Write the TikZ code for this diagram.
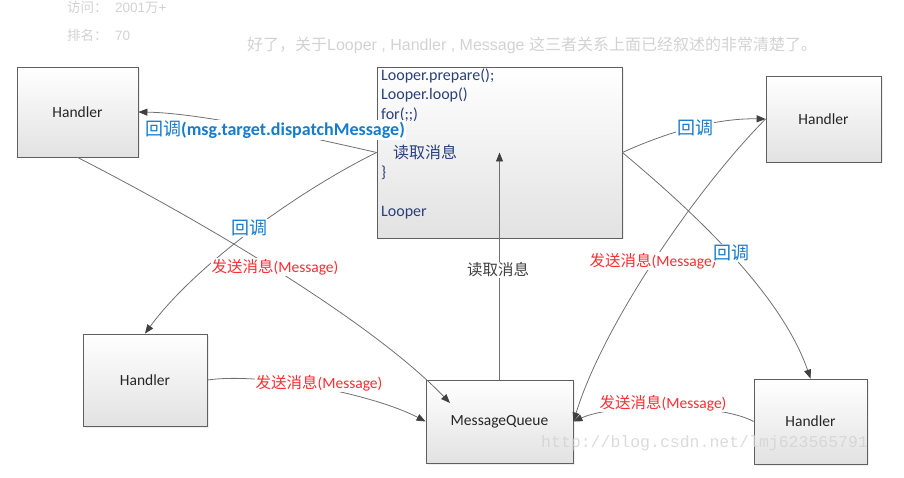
\documentclass[tikz,border=0pt]{standalone}
\usepackage{fontspec}
\setmainfont{Carlito}
\newfontfamily\cjk{Noto Sans CJK SC}
\newfontfamily\arialf{Liberation Sans}
\newfontfamily\monof{Liberation Mono}
\usetikzlibrary{arrows.meta,shadows}

\definecolor{boxline}{RGB}{95,95,95}
\definecolor{boxbottom}{RGB}{226,226,226}
\definecolor{cbblue}{RGB}{22,124,205}
\definecolor{msgred}{RGB}{250,45,50}
\definecolor{codeblue}{RGB}{42,64,122}
\definecolor{linegray}{RGB}{112,112,112}
\definecolor{fadegray}{RGB}{210,210,210}

\newcommand{\zh}[1]{{\cjk #1}}

\begin{document}
\begin{tikzpicture}[x=1pt, y=-1pt,
    box/.style={rectangle, draw=boxline, line width=0.8pt, top color=white, bottom color=boxbottom,
        drop shadow={shadow xshift=1.5pt, shadow yshift=-1.5pt, fill=black!12}, inner sep=0pt,
        font=\fontsize{15.5}{18}\selectfont, text=black!85},
    arrow/.style={-{Triangle[length=9pt,width=7pt,color=black!75]}, draw=linegray, line width=0.8pt},
    cb/.style={fill=white, inner sep=1pt, text=cbblue, font=\fontsize{18}{20}\selectfont},
    msg/.style={fill=white, inner sep=1pt, text=msgred, font=\fontsize{15.5}{18}\selectfont},
    fade/.style={text=fadegray, inner sep=0pt}
]
\useasboundingbox (0,0) rectangle (904,478);

% faded page text behind the figure
\node[fade, anchor=west, font=\fontsize{13.5}{16}\selectfont] (visits) at (67,7) {\zh{访问：}\arialf\ \ 2001\zh{万}+};
\node[fade, anchor=west, font=\fontsize{13.5}{16}\selectfont] (rank) at (67,35) {\zh{排名：}\arialf\ \ 70};
\node[fade, anchor=west, font=\fontsize{16}{18}\selectfont] (intro) at (247,45)
    {\zh{好了，关于}\arialf Looper , Handler , Message \zh{这三者关系上面已经叙述的非常清楚了。}};

% boxes
\node[box, minimum width=121pt, minimum height=90pt] (htl) at (77.5,112) {Handler};
\node[box, minimum width=245pt, minimum height=171pt] (looper) at (499.5,152.5) {};
\node[box, minimum width=115pt, minimum height=86pt] (htr) at (823.5,119) {Handler};
\node[box, minimum width=124pt, minimum height=92pt] (hbl) at (145,380) {Handler};
\node[box, minimum width=147pt, minimum height=83pt] (mq) at (499.5,421.5) {MessageQueue};
\node[box, minimum width=113pt, minimum height=85pt] (hbr) at (810.5,421.5) {Handler};

% code inside the looper box
\node[anchor=north west, inner sep=0pt, align=left, text=codeblue, font=\fontsize{16}{19.5}\selectfont] (code) at (381,68)
    {\rule{0pt}{12pt}Looper.prepare();\\Looper.loop()\\for(;;)\\\mbox{}\\\hspace*{12pt}\zh{读取消息}\\\}\\\mbox{}\\Looper};

\coordinate (mqin) at (450,403);

% connectors
\draw[arrow] (looper.west) .. controls (300,135) and (200,113) .. (htl.east);
\draw[arrow] (looper.west) .. controls (300,190) and (195,265) .. (hbl.north);
\draw[arrow] (htl.south) .. controls (200,220) and (370,320) .. (mqin);
\draw[arrow] (hbl.east) .. controls (265,372) and (375,395) .. (mq.west);
\draw[arrow] (mq.north) -- (looper.center);
\draw[arrow] (looper.east) .. controls (665,133) and (715,118) .. (htr.west);
\draw[arrow] (looper.east) .. controls (685,205) and (780,290) .. (hbr.north);
\draw[arrow] (hbr.west) .. controls (720,403) and (615,403) .. (mq.east);
\draw[arrow] (htr.west) .. controls (700,185) and (605,320) .. (mq.east);

% labels on the connectors
\node[cb] (cb1) at (275,130) {\zh{回调}\textbf{(msg.target.dispatchMessage)}};
\node[cb] (cb2) at (249,228) {\zh{回调}};
\node[msg] (send1) at (275,267) {\zh{发送消息}(Message)};
\node[msg] (send2) at (319,383) {\zh{发送消息}(Message)};
\node[fill=white, inner sep=1pt, text=black!75, font=\fontsize{15.5}{18}\selectfont] (read) at (498,270) {\zh{读取消息}};
\node[cb] (cb3) at (695,128) {\zh{回调}};
\node[msg] (send3) at (653,261) {\zh{发送消息}(Message)};
\node[cb] (cb4) at (731,253) {\zh{回调}};
\node[msg] (send4) at (663,403) {\zh{发送消息}(Message)};

% watermark
\node[fade, anchor=west, opacity=0.8, font=\monof\fontsize{16.5}{18}\selectfont] (mark) at (541,443) {http://blog.csdn.net/lmj623565791};
\end{tikzpicture}
\end{document}
